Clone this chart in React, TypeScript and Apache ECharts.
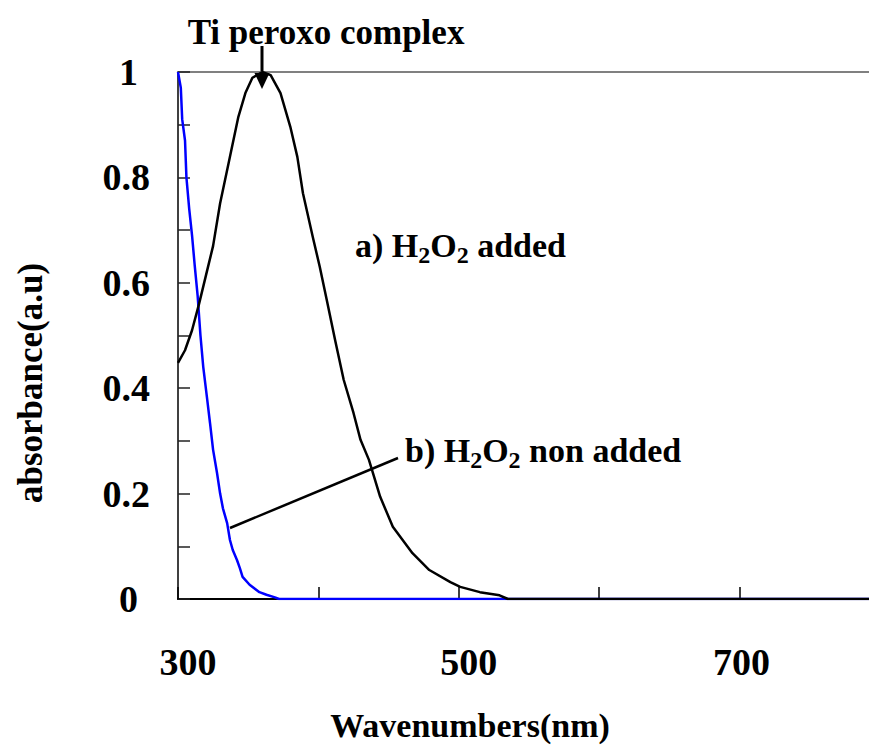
import React, { useEffect, useRef } from "react";
import * as echarts from "echarts";

// Series a) H2O2 added (black)
const waveA = [300, 305, 310, 315, 320, 325, 330, 337, 343, 348, 353, 360, 366, 373, 380, 385, 389, 396, 401, 406, 412, 418, 425, 430, 436, 444, 453, 467, 479, 494, 501, 515, 529, 535, 800];
const absA = [0.448, 0.472, 0.51, 0.56, 0.615, 0.67, 0.751, 0.839, 0.915, 0.96, 0.989, 1.0, 0.994, 0.96, 0.896, 0.839, 0.77, 0.687, 0.63, 0.567, 0.49, 0.416, 0.353, 0.302, 0.264, 0.194, 0.137, 0.087, 0.055, 0.032, 0.023, 0.013, 0.007, 0, 0];

// Series b) H2O2 non added (blue)
const waveB = [300, 302, 303, 305, 306, 308, 310, 312, 314, 316, 318, 320.6, 322.8, 325, 327.8, 330, 332, 335, 337, 339, 342, 344, 346, 351, 358, 363, 369, 372, 800];
const absB = [1.0, 0.97, 0.91, 0.87, 0.8, 0.74, 0.69, 0.63, 0.575, 0.5, 0.44, 0.383, 0.334, 0.283, 0.239, 0.2, 0.172, 0.144, 0.112, 0.093, 0.074, 0.059, 0.042, 0.027, 0.013, 0.008, 0.003, 0, 0];

const xLabels = [300, 500, 700];
const yLabels = [0, 0.2, 0.4, 0.6, 0.8, 1];

const FONT = "'Liberation Serif', 'Times New Roman', serif";

export default function App() {
  const ref = useRef<HTMLDivElement>(null);

  useEffect(() => {
    if (!ref.current) return;
    const chart = echarts.init(ref.current, undefined, { renderer: "svg" });
    const dataA = waveA.map((w, i) => [w, absA[i]]);
    const dataB = waveB.map((w, i) => [w, absB[i]]);

    const subRich = {
      m: { fontSize: 34, fontWeight: "bold", fontFamily: FONT, color: "#000", lineHeight: 44, verticalAlign: "middle" },
      s: { fontSize: 24, fontWeight: "bold", fontFamily: FONT, color: "#000", lineHeight: 24, verticalAlign: "bottom" },
    };

    const tickFont = { fontFamily: FONT, fontWeight: "bold", fontSize: 38, color: "#000" };

    chart.setOption({
      animation: false,
      backgroundColor: "#fff",
      grid: { left: 178, top: 72, width: 702, height: 527, outerBoundsMode: "none", containLabel: false },
      xAxis: [
        {
          type: "value",
          min: 300,
          max: 800,
          interval: 100,
          axisLine: { show: true, onZero: false, lineStyle: { color: "#000", width: 2 } },
          axisTick: { show: true, inside: true, length: 12, lineStyle: { color: "#000", width: 1.5 } },
          axisLabel: {
            formatter: (v: number) => {
              const r = Math.round(v);
              if (!xLabels.includes(r)) return "";
              return r === 700 ? `{c|${r}}` : `{o|${r}}`;
            },
            margin: 44,
            rich: {
              o: { ...tickFont, padding: [0, 0, 0, 20] },
              c: { ...tickFont, padding: [0, 0, 0, 4] },
            },
          },
          splitLine: { show: false },
        },
        {
          type: "value",
          position: "top",
          min: 300,
          max: 800,
          interval: 100,
          axisLine: { show: true, onZero: false, lineStyle: { color: "#808080", width: 2 } },
          axisTick: { show: false },
          axisLabel: { show: false },
          splitLine: { show: false },
        },
      ],
      yAxis: {
        type: "value",
        min: 0,
        max: 1,
        interval: 0.1,
        axisLine: { show: true, onZero: false, lineStyle: { color: "#404040", width: 2 } },
        axisTick: { show: true, inside: true, length: 12, lineStyle: { color: "#222", width: 1.5 } },
        axisLabel: {
          formatter: (v: number) => {
            const r = Math.round(v * 10) / 10;
            if (!yLabels.some((l) => Math.abs(l - r) < 1e-6)) return "";
            if (r === 0 || r === 1) return `{e|${r}}`;
            return `{n|${r}}`;
          },
          margin: 28,
          align: "right",
          rich: {
            n: { ...tickFont },
            e: { ...tickFont, padding: [0, 12, 0, 0] },
          },
        },
        splitLine: { show: false },
      },
      series: [
        {
          type: "line",
          data: dataB,
          showSymbol: false,
          symbol: "none",
          lineStyle: { color: "#0000FF", width: 2.5 },
          z: 2,
        },
        {
          type: "line",
          data: dataA,
          showSymbol: false,
          symbol: "none",
          lineStyle: { color: "#000", width: 2.5 },
          z: 3,
        },
      ],
      graphic: [
        {
          type: "text",
          x: 326,
          y: 32,
          style: { text: "Ti peroxo complex", font: `bold 35px ${FONT}`, fill: "#000", textAlign: "center", textVerticalAlign: "middle" },
        },
        {
          type: "line",
          shape: { x1: 262, y1: 46, x2: 262, y2: 76 },
          style: { stroke: "#000", lineWidth: 3 },
        },
        {
          type: "polygon",
          shape: { points: [[254, 72], [270, 72], [262, 89]] },
          style: { fill: "#000" },
        },
        {
          type: "text",
          x: 355,
          y: 245,
          style: {
            text: "{m|a) H}{s|2}{m|O}{s|2}{m| added}",
            rich: subRich,
            textAlign: "left",
            textVerticalAlign: "middle",
          },
        },
        {
          type: "text",
          x: 405,
          y: 450,
          style: {
            text: "{m|b) H}{s|2}{m|O}{s|2}{m| non added}",
            rich: subRich,
            textAlign: "left",
            textVerticalAlign: "middle",
          },
        },
        {
          type: "line",
          shape: { x1: 230, y1: 528, x2: 398, y2: 458 },
          style: { stroke: "#000", lineWidth: 2.5 },
        },
        {
          type: "text",
          x: 470,
          y: 725,
          style: { text: "Wavenumbers(nm)", font: `bold 34px ${FONT}`, fill: "#000", textAlign: "center", textVerticalAlign: "middle" },
        },
        {
          type: "text",
          x: 30,
          y: 383,
          rotation: Math.PI / 2,
          style: { text: "absorbance(a.u)", font: `bold 35px ${FONT}`, fill: "#000", textAlign: "center", textVerticalAlign: "middle" },
        },
      ],
    });
    return () => chart.dispose();
  }, []);

  return (
    <div
      ref={ref}
      style={{ position: "absolute", left: 0, top: 0, width: 869, height: 745, background: "#fff" }}
    />
  );
}
